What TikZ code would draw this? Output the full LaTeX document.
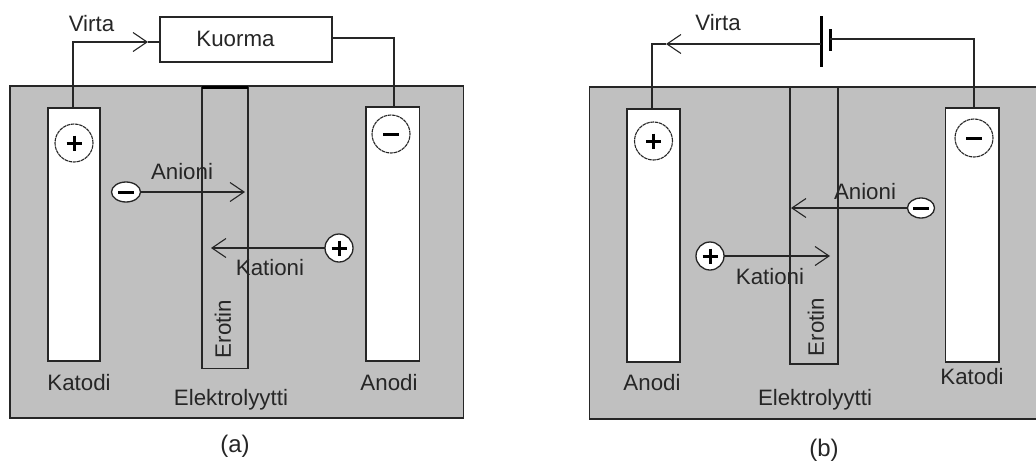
\documentclass[tikz,border=0pt]{standalone}
\usepackage{fontspec}
\setmainfont{Liberation Sans}
\usetikzlibrary{arrows.meta,calc,shapes.geometric}
\definecolor{cellgray}{HTML}{C0C0C0}
\definecolor{ink}{HTML}{262626}
\tikzset{
  x=1pt,y=-1pt,
  box/.style={draw=ink,line width=1.4pt,anchor=north west,inner sep=0pt,outer sep=0pt},
  cell/.style={box,fill=cellgray},
  electrode/.style={box,fill=white},
  separatorbox/.style={box},
  wire/.style={draw=ink,line width=1.4pt},
  openhead/.style={wire,-{Straight Barb[length=14pt,width=19pt,line width=1.1pt]}},
  label/.style={text=ink,font=\fontsize{22.3}{24}\selectfont,inner sep=0pt},
  caption/.style={text=ink,font=\fontsize{24}{26}\selectfont,inner sep=0pt},
  polecircle/.style={circle,draw=ink,line width=1.1pt,dash pattern=on 3.5pt off 0.7pt,fill=white,minimum size=38pt,inner sep=0pt,outer sep=0pt},
  ioncircle/.style={circle,draw=ink,line width=1.3pt,fill=white,minimum size=28pt,inner sep=0pt,outer sep=0pt},
  ionoval/.style={ellipse,draw=ink,line width=1.3pt,fill=white,minimum width=29pt,minimum height=20pt,inner sep=0pt,outer sep=0pt},
  plate/.style={draw=black,line width=3pt}
}
\newcommand{\plussign}[1]{\draw[black,line width=3pt] ($(#1)+(-7.5,0)$) -- ($(#1)+(7.5,0)$) ($(#1)+(0,-7.5)$) -- ($(#1)+(0,7.5)$);}
\newcommand{\minussign}[1]{\draw[black,line width=3pt] ($(#1)+(-8,0)$) -- ($(#1)+(8,0)$);}
\begin{document}
\begin{tikzpicture}
\useasboundingbox (0,0) rectangle (1036,464);
\clip (0,0) rectangle (1036,464);

% ---------- panel (a)
\node[cell,minimum width=453.5pt,minimum height=332pt] (cellA) at (10,86) {};
\node[separatorbox,minimum width=46pt,minimum height=281pt] (sepA) at (202,87.5) {};
\draw[black,line width=2.2pt] (sepA.north west) -- (sepA.north east);
\node[electrode,minimum width=52pt,minimum height=253pt] (leftA) at (48,108) {};
\node[electrode,minimum width=53.5pt,minimum height=254pt] (rightA) at (366,107) {};
\node[box,fill=white,minimum width=172pt,minimum height=45pt] (load) at (160,17) {};
\node[label] (loadtext) at (235.5,39) {Kuorma};
\coordinate (tipA) at (148,42);
\coordinate (loadinA) at (load.west |- tipA);
\coordinate (loadoutA) at ($(load.east)+(0,-1.5)$);
\coordinate (corrA) at (73,42);
\draw[openhead] ($(leftA.north)+(-1,0)$) -- (corrA) -- (tipA);
\draw[wire] (tipA) -- (loadinA);
\draw[wire] (loadoutA) -| (394,107);
\node[label] (virtaA) at (91.5,24) {Virta};
\node[polecircle] (polepA) at (74,143) {};
\plussign{polepA}
\node[polecircle] (polemA) at (391,134) {};
\minussign{polemA}
\node[ionoval] (anA) at (126,192) {};
\minussign{anA}
\node[ioncircle] (catA) at (339,248) {};
\plussign{catA}
\coordinate (anEndA) at (245,192);
\coordinate (catEndA) at (211,248);
\draw[openhead] (anA.east) -- (anEndA);
\draw[openhead] (catA.west) -- (catEndA);
\node[label] (anlA) at (182,172) {Anioni};
\node[label] (catlA) at (270,268) {Kationi};
\node[label,rotate=90] (erotA) at (223,329) {Erotin};
\node[label] (katodiA) at (79,383) {Katodi};
\node[label] (anodiA) at (389,383) {Anodi};
\node[label] (elA) at (231,400) {Elektrolyytti};
\node[caption] (capA) at (235,446) {(a)};

% ---------- panel (b)
\node[cell,minimum width=460pt,minimum height=332pt] (cellB) at (589.5,87) {};
\node[separatorbox,minimum width=48pt,minimum height=277pt] (sepB) at (790,87) {};
\node[electrode,minimum width=53pt,minimum height=253pt] (leftB) at (627,109) {};
\node[electrode,minimum width=53.5pt,minimum height=254pt] (rightB) at (945.5,108) {};
\coordinate (batA) at (821,16);
\coordinate (batAb) at (821,67);
\coordinate (batC) at (830,29);
\coordinate (batCb) at (830,51);
\draw[plate] (batA) -- (batAb);
\draw[plate] (batC) -- (batCb);
\coordinate (tipB) at (666,44);
\coordinate (batInB) at (821,44);
\coordinate (corrB) at (652,44);
\draw[openhead] (batInB) -- (tipB);
\draw[wire] (tipB) -- (corrB) -- (leftB.north -| corrB);
\coordinate (batOutB) at (830,39);
\coordinate (corrB2) at (974,39);
\draw[wire] (batOutB) -- (corrB2) -- (rightB.north -| corrB2);
\node[label] (virtaB) at (718,23) {Virta};
\node[polecircle] (polepB) at (653.5,141) {};
\plussign{polepB}
\node[polecircle] (polemB) at (974,138) {};
\minussign{polemB}
\node[ionoval,minimum width=27pt] (anB) at (921,208) {};
\minussign{anB}
\node[ioncircle] (catB) at (710,256) {};
\plussign{catB}
\coordinate (anEndB) at (791,208);
\coordinate (catEndB) at (830,256);
\draw[openhead] (anB.west) -- (anEndB);
\draw[openhead] (catB.east) -- (catEndB);
\node[label] (anlB) at (865,192) {Anioni};
\node[label] (catlB) at (770,277) {Kationi};
\node[label,rotate=90] (erotB) at (816,327) {Erotin};
\node[label] (anodiB) at (652,383) {Anodi};
\node[label] (katodiB) at (972,377) {Katodi};
\node[label] (elB) at (815,400) {Elektrolyytti};
\node[caption] (capB) at (824,450) {(b)};
\end{tikzpicture}
\end{document}
